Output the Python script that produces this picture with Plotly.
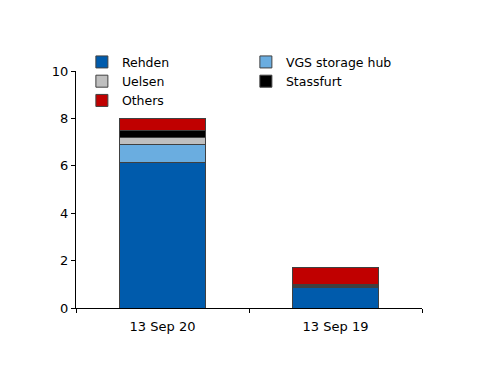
import plotly.graph_objects as go

categories = ["13 Sep 20", "13 Sep 19"]
series_names = ["Rehden", "VGS storage hub", "Uelsen", "Stassfurt", "Others"]
rehden = [6.15, 0.85]
vgs = [0.73, 0.06]
uelsen = [0.31, 0.06]
stassfurt = [0.28, 0.02]
others = [0.53, 0.73]
colors = ["#005BAC", "#6AADE0", "#BFBFBF", "#000000", "#C00000"]

values = [rehden, vgs, uelsen, stassfurt, others]

fig = go.Figure()
for name, vals, col in zip(series_names, values, colors):
    fig.add_trace(go.Bar(
        x=categories, y=vals, name=name,
        marker=dict(color=col, line=dict(color="#404040", width=1)),
        width=0.5,
    ))

fig.update_layout(
    barmode="stack",
    width=492, height=378,
    margin=dict(l=68, r=78, t=63, b=78),
    plot_bgcolor="white", paper_bgcolor="white",
    font=dict(family="DejaVu Sans", size=13, color="#000000"),
    showlegend=True,
    legend=dict(
        orientation="h", traceorder="normal",
        x=0.017, y=1.10, xanchor="left", yanchor="top",
        entrywidth=119, entrywidthmode="pixels",
        itemwidth=30, tracegroupgap=0,
        font=dict(size=12.5),
        bgcolor="rgba(0,0,0,0)",
    ),
    yaxis=dict(
        range=[0, 10], tickvals=[0, 2, 4, 6, 8, 10],
        showgrid=False, zeroline=False,
        showline=True, linecolor="#000000", linewidth=1,
        ticks="outside", ticklen=4, tickcolor="#000000",
    ),
    xaxis=dict(
        showgrid=False, showline=True, linecolor="#000000", linewidth=1,
        ticks="outside", ticklen=4, tickcolor="#000000",
        tickson="boundaries", ticklabelstandoff=6,
    ),
)

fig.write_html("out.html")
